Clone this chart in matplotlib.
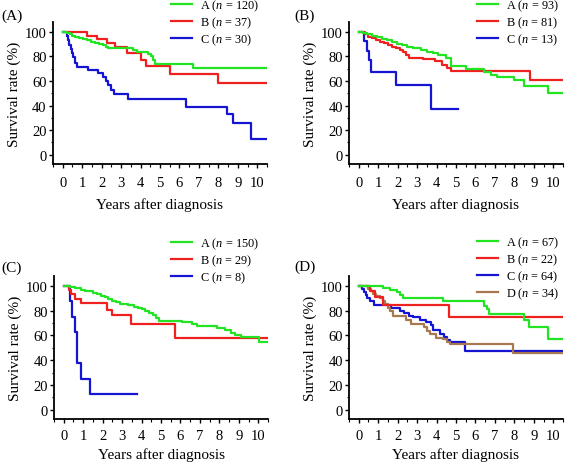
import matplotlib
matplotlib.use("Agg")
import matplotlib.pyplot as plt
from matplotlib.ticker import MultipleLocator

plt.rcParams['font.family'] = ['Liberation Serif', 'DejaVu Serif']
plt.rcParams['mathtext.fontset'] = 'custom'
plt.rcParams['mathtext.rm'] = 'Liberation Serif'
plt.rcParams['mathtext.it'] = 'Liberation Serif:italic'

GREEN = '#22e422'
RED = '#ee2020'
BLUE = '#1414d2'
BROWN = '#a87850'

# ---- panel (A) ----
a_green_t = [0, 0.2, 0.35, 0.5, 0.65, 0.85, 1.05, 1.25, 1.45, 1.65, 1.85, 2.05, 2.2, 2.35, 3.6, 3.8, 4.4, 4.55, 4.65, 4.75, 6.7]
a_green_s = [100, 99, 98, 97, 96, 95, 94, 93, 92, 91, 90, 89, 88, 86.5, 85, 83.7, 82.3, 80.2, 77, 74.2, 70.7]
a_red_t = [0, 1.25, 1.75, 2.3, 2.7, 3.3, 4.0, 4.3, 5.5, 8.0]
a_red_s = [100, 97, 94, 91, 88, 82.5, 77, 72, 65.5, 58.7]
a_blue_t = [0, 0.2, 0.27, 0.33, 0.4, 0.47, 0.55, 0.62, 0.75, 1.3, 1.8, 2.05, 2.2, 2.35, 2.5, 2.65, 3.35, 6.35, 8.45, 8.75, 9.7]
a_blue_s = [100, 96.7, 93, 89, 86, 83, 79.6, 74.7, 71, 68.7, 66.6, 63.3, 60, 56.5, 53, 49.7, 45.6, 38.9, 32.9, 26.1, 13]
a_end = [10.5, 10.5, 10.5]
a_labels = ['A ($\\it{n}$ = 120)', 'B ($\\it{n}$ = 37)', 'C ($\\it{n}$ = 30)']

# ---- panel (B) ----
b_green_t = [0, 0.2, 0.45, 0.7, 0.95, 1.2, 1.45, 1.7, 1.95, 2.2, 2.5, 2.8, 3.2, 3.5, 3.8, 4.1, 4.5, 4.75, 5.5, 6.45, 6.8, 7.1, 8.0, 8.5, 9.75]
b_green_s = [100, 99, 98, 97, 95.5, 94.5, 93, 92, 90.5, 89, 87.5, 86.5, 85, 84, 82.5, 81, 78.8, 72, 70, 67.5, 65, 63.3, 60.5, 56.3, 50.3]
b_red_t = [0, 0.3, 0.5, 0.7, 0.9, 1.1, 1.3, 1.5, 1.7, 1.9, 2.1, 2.3, 2.45, 2.6, 3.3, 3.9, 4.3, 4.55, 4.75, 8.8]
b_red_s = [100, 98, 96, 95, 93.5, 92, 91, 89.5, 88, 86.5, 85.5, 83.5, 81, 78.5, 77.5, 76, 73, 70.7, 68.5, 60.8]
b_blue_t = [0, 0.25, 0.45, 0.55, 0.62, 1.93, 3.72]
b_blue_s = [100, 92.3, 84.6, 76.9, 67.7, 56.4, 37.6]
b_end = [10.5, 10.5, 5.1]
b_labels = ['A ($\\it{n}$ = 93)', 'B ($\\it{n}$ = 81)', 'C ($\\it{n}$ = 13)']

# ---- panel (C) ----
c_green_t = [0, 0.3, 0.6, 0.9, 1.1, 1.3, 1.5, 1.7, 1.9, 2.1, 2.3, 2.5, 2.7, 2.9, 3.3, 3.6, 3.8, 4.0, 4.2, 4.4, 4.6, 4.75, 4.9, 6.1, 6.6, 6.85, 7.9, 8.3, 8.6, 8.8, 9.1, 10.05]
c_green_s = [100, 99, 98, 97, 96, 95.5, 94.5, 93.5, 92, 91, 89.5, 88, 87, 85.5, 84.5, 83, 82, 81, 79.5, 78, 76.5, 74, 72, 71, 69.5, 67.3, 66, 64, 62, 60, 59, 54.6]
c_red_t = [0, 0.25, 0.35, 0.6, 0.9, 2.23, 2.49, 3.47, 5.7]
c_red_s = [100, 96.6, 93.1, 89.7, 86.2, 80.8, 76.2, 69.4, 58.1]
c_blue_t = [0, 0.3, 0.45, 0.6, 0.7, 0.9, 1.33]
c_blue_s = [100, 87.5, 75, 62.5, 37.5, 25, 12.5]
c_end = [10.5, 10.5, 3.75]
c_labels = ['A ($\\it{n}$ = 150)', 'B ($\\it{n}$ = 29)', 'C ($\\it{n}$ = 8)']

# ---- panel (D) ----
d_green_t = [0, 1.25, 1.6, 1.95, 2.1, 2.3, 4.35, 6.42, 6.6, 6.7, 8.48, 8.75, 9.75]
d_green_s = [100, 98.5, 97, 95, 93, 90, 87.5, 84, 81, 77.3, 72.5, 67, 57.3]
d_red_t = [0, 0.6, 0.85, 1.25, 4.65]
d_red_s = [100, 95.5, 90.9, 84.5, 74.8]
d_blue_t = [0, 0.15, 0.25, 0.35, 0.45, 0.6, 0.8, 1.65, 2.1, 2.35, 2.6, 2.8, 3.15, 3.45, 3.7, 3.8, 4.2, 4.4, 4.55, 4.7, 5.45]
d_blue_s = [100, 97.5, 95, 92.5, 90, 87.5, 84.5, 82, 80, 78, 76, 74.5, 72.5, 71, 68.5, 64, 61.5, 58.5, 56.5, 54.5, 47.3]
d_brown_t = [0, 0.5, 0.65, 0.75, 0.9, 1.1, 1.25, 1.35, 1.5, 1.6, 1.75, 2.45, 2.7, 3.35, 3.5, 3.65, 3.95, 4.35, 4.55, 4.7, 7.95]
d_brown_s = [100, 97.1, 95.5, 93.5, 92, 90.5, 88, 85.3, 82.4, 79.7, 75.5, 72.2, 68.9, 66.5, 63.5, 61, 58.1, 56.8, 54.5, 52.8, 45.7]
d_end = [10.5, 10.5, 10.5, 10.5]
d_labels = ['A ($\\it{n}$ = 67)', 'B ($\\it{n}$ = 22)', 'C ($\\it{n}$ = 64)', 'D ($\\it{n}$ = 34)']

W, H = 566, 464
fig = plt.figure(figsize=(W / 100, H / 100), dpi=100)


def px_axes(x0, y0, x1, y1):
    # pixel box (top-left origin) -> figure fraction
    return fig.add_axes([x0 / W, 1 - y1 / H, (x1 - x0) / W, (y1 - y0) / H])


def draw_panel(box, curves, labels, tag, tag_xy, leg_xy, xpad=5.5, xlabpad=6):
    ax = px_axes(*box)
    lines = []
    for t, s, end, color, z in curves:
        tt = list(t) + [end]
        ss = list(s) + [s[-1]]
        ln, = ax.step(tt, ss, where='post', color=color, lw=1.6, zorder=z)
        lines.append(ln)
    ax.set_xlim(-0.5, 10.5)
    ax.set_ylim(-7.5, 108)
    ax.set_xticks(range(0, 11))
    ax.set_yticks(range(0, 101, 20))
    ax.xaxis.set_minor_locator(MultipleLocator(0.5))
    ax.yaxis.set_minor_locator(MultipleLocator(10))
    ax.tick_params(which='major', direction='out', length=3, width=1, labelsize=10.5)
    ax.tick_params(axis='x', which='major', pad=xpad)
    ax.tick_params(axis='y', which='major', pad=1.5)
    ax.tick_params(which='minor', direction='out', length=1.8, width=0.8)
    for side in ['top', 'right']:
        ax.spines[side].set_visible(False)
    for side in ['left', 'bottom']:
        ax.spines[side].set_linewidth(1.3)
    ax.set_xlabel('Years after diagnosis', fontsize=11, labelpad=xlabpad)
    ax.set_ylabel('Survival rate (%)', fontsize=11, labelpad=3)
    fig.text(tag_xy[0] / W, 1 - tag_xy[1] / H, tag, fontsize=11, ha='left', va='center')
    fig.legend(lines, labels, loc='upper left',
               bbox_to_anchor=(leg_xy[0] / W, 1 - leg_xy[1] / H),
               frameon=False, fontsize=8.8, handlelength=1.75, handletextpad=0.6,
               labelspacing=0.12, borderpad=0, borderaxespad=0)
    return ax


draw_panel((53, 23, 267, 165),
           [(a_green_t, a_green_s, a_end[0], GREEN, 4),
            (a_red_t, a_red_s, a_end[1], RED, 3),
            (a_blue_t, a_blue_s, a_end[2], BLUE, 2)],
           a_labels, '(A)', (1, 16), (171, -1))

draw_panel((349, 23, 563, 165),
           [(b_green_t, b_green_s, b_end[0], GREEN, 4),
            (b_red_t, b_red_s, b_end[1], RED, 3),
            (b_blue_t, b_blue_s, b_end[2], BLUE, 2)],
           b_labels, '(B)', (294, 16), (477, -1))

draw_panel((54, 277, 268, 420),
           [(c_green_t, c_green_s, c_end[0], GREEN, 4),
            (c_red_t, c_red_s, c_end[1], RED, 3),
            (c_blue_t, c_blue_s, c_end[2], BLUE, 2)],
           c_labels, '(C)', (1, 268), (171, 237), xpad=4.2, xlabpad=3.5)

draw_panel((349, 277, 563, 420),
           [(d_green_t, d_green_s, d_end[0], GREEN, 5),
            (d_red_t, d_red_s, d_end[1], RED, 4),
            (d_blue_t, d_blue_s, d_end[2], BLUE, 2),
            (d_brown_t, d_brown_s, d_end[3], BROWN, 3)],
           d_labels, '(D)', (294, 267), (477, 236), xpad=4.2, xlabpad=3.5)

fig.savefig('out.png', dpi=100)
